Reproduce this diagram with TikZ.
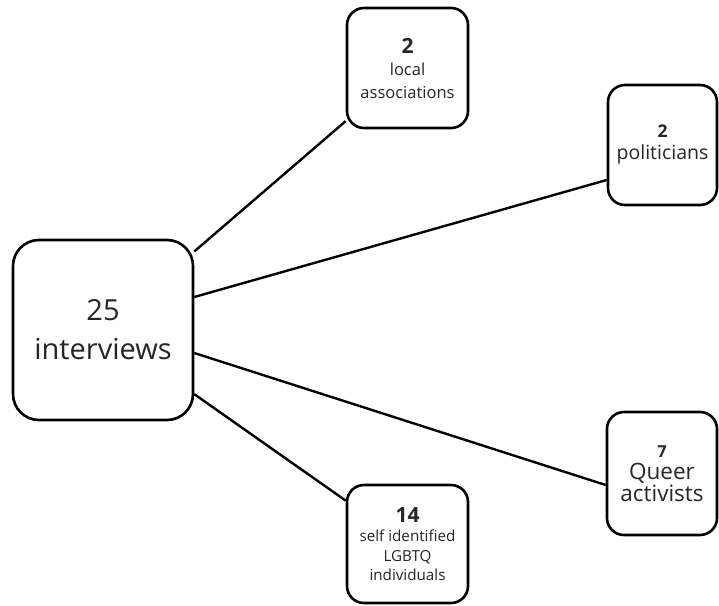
\documentclass[tikz,border=0pt]{standalone}
\usepackage{fontspec}
\setmainfont{Open Sans}
\usetikzlibrary{calc}
\begin{document}
\begin{tikzpicture}[x=1pt,y=-1pt,
  box/.style={draw=black,line width=2.6pt,fill=white,rounded corners=#1,inner sep=0pt,align=center,text=black!85},
  link/.style={draw=black,line width=2.4pt}]
\useasboundingbox (0,0) rectangle (719,605);
\node[box=26pt,minimum width=180pt,minimum height=180pt,font=\fontsize{29}{39}\selectfont] (main) at (103,330) {25\\interviews};
\node[box=17pt,minimum width=121pt,minimum height=120pt,font=\fontsize{16.5}{22.5}\selectfont] (loc) at (407.5,68) {{\fontsize{21}{22.5}\selectfont\bfseries 2}\\local\\associations};
\node[box=17pt,minimum width=109pt,minimum height=120pt,font=\fontsize{19.5}{22}\selectfont] (pol) at (662.5,145) {{\fontsize{17.5}{22}\selectfont\bfseries 2}\\politicians};
\node[box=17pt,minimum width=110pt,minimum height=123pt,font=\fontsize{22.5}{22}\selectfont] (que) at (662,473.5) {{\fontsize{16.5}{22}\selectfont\bfseries 7}\\Queer\\activists};
\node[box=17pt,minimum width=121pt,minimum height=118pt,font=\fontsize{15.2}{19.5}\selectfont] (lgb) at (407.5,544) {{\fontsize{21}{19.5}\selectfont\bfseries 14}\\self identified\\LGBTQ\\individuals};
\draw[link] (main) -- (loc);
\draw[link] ($(main.east)+(0,-33)$) -- ($(pol.west)+(0,35)$);
\draw[link] ($(main.east)+(0,23)$) -- ($(que.west)+(0,11.5)$);
\draw[link] (main) -- (lgb);
\end{tikzpicture}
\end{document}
